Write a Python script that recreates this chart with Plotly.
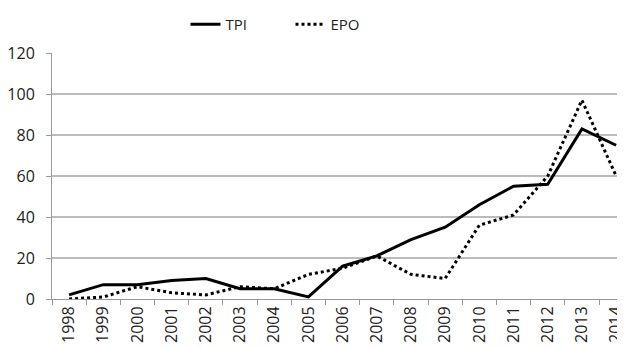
import plotly.graph_objects as go

years = [str(y) for y in range(1998, 2015)]
tpi = [2, 7, 7, 9, 10, 5, 5, 1, 16, 21, 29, 35, 46, 55, 56, 83, 75]
epo = [0, 1, 6, 3, 2, 6, 5, 12, 15, 21, 12, 10, 36, 41, 60, 97, 60]
yticks = [0, 20, 40, 60, 80, 100, 120]

fig = go.Figure()
fig.add_trace(go.Scatter(x=years, y=tpi, mode="lines", name="TPI",
                         line=dict(color="black", width=3)))
fig.add_trace(go.Scatter(x=years, y=epo, mode="lines", name="EPO",
                         line=dict(color="black", width=3, dash="dot")))

fig.update_layout(
    width=617, height=340,
    margin=dict(l=44, r=0, t=37, b=49),
    paper_bgcolor="white", plot_bgcolor="white",
    font=dict(family="Open Sans", color="#222", size=14),
    showlegend=True,
    legend=dict(orientation="h", x=0.233, xanchor="left", y=1.118, yanchor="middle",
                font=dict(size=15), entrywidth=60, entrywidthmode="pixels",
                bgcolor="rgba(0,0,0,0)"),
    xaxis=dict(type="category", range=[-0.5, 16.26], tickangle=-90, automargin=False,
               tickson="boundaries", ticks="outside", ticklen=5, tickcolor="#999",
               showline=True, linecolor="#999", linewidth=1,
               showgrid=False, tickfont=dict(size=16)),
    yaxis=dict(range=[0, 120], tickvals=yticks, ticks="outside", ticklen=5,
               automargin=False, ticklabelstandoff=8,
               tickcolor="#999", showline=True, linecolor="#999", linewidth=1,
               showgrid=True, gridcolor="#bbb", gridwidth=1.5, zeroline=False,
               tickfont=dict(size=16)),
)
fig.write_html("out.html")
